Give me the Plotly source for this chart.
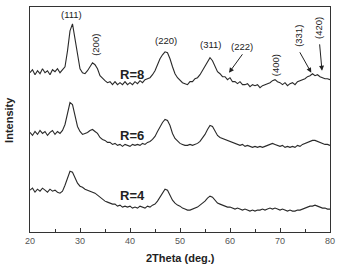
import plotly.graph_objects as go

two_theta = [20.0, 20.5, 21.0, 21.5, 22.0, 22.5, 23.0, 23.5, 24.0, 24.5,
             25.0, 25.5, 26.0, 26.5, 27.0, 27.5, 28.0, 28.5, 29.0, 29.5,
             30.0, 30.5, 31.0, 31.5, 32.0, 32.5, 33.0, 33.5, 34.0, 34.5,
             35.0, 35.5, 36.0, 36.5, 37.0, 37.5, 38.0, 38.5, 39.0, 39.5,
             40.0, 40.5, 41.0, 41.5, 42.0, 42.5, 43.0, 43.5, 44.0, 44.5,
             45.0, 45.5, 46.0, 46.5, 47.0, 47.5, 48.0, 48.5, 49.0, 49.5,
             50.0, 50.5, 51.0, 51.5, 52.0, 52.5, 53.0, 53.5, 54.0, 54.5,
             55.0, 55.5, 56.0, 56.5, 57.0, 57.5, 58.0, 58.5, 59.0, 59.5,
             60.0, 60.5, 61.0, 61.5, 62.0, 62.5, 63.0, 63.5, 64.0, 64.5,
             65.0, 65.5, 66.0, 66.5, 67.0, 67.5, 68.0, 68.5, 69.0, 69.5,
             70.0, 70.5, 71.0, 71.5, 72.0, 72.5, 73.0, 73.5, 74.0, 74.5,
             75.0, 75.5, 76.0, 76.5, 77.0, 77.5, 78.0, 78.5, 79.0, 79.5,
             80.0]

r8 = [160, 163, 158, 162, 159, 164, 160, 162, 158, 163,
      161, 164, 160, 163, 166, 182, 202, 209, 194, 176,
      164, 160, 159, 162, 166, 170, 168, 164, 157, 154,
      152, 150, 151, 148, 151, 148, 150, 148, 151, 148,
      150, 148, 151, 149, 152, 150, 153, 154, 155, 158,
      162, 168, 174, 178, 181, 180, 174, 166, 159, 155,
      152, 150, 149, 148, 151, 151, 154, 155, 158, 162,
      166, 170, 175, 172, 166, 161, 159, 156, 156, 153,
      155, 151, 151, 149, 151, 148, 148, 149, 146, 148,
      147, 148, 145, 147, 148, 149, 150, 152, 153, 151,
      150, 148, 150, 147, 149, 150, 148, 151, 152, 153,
      154, 156, 157, 159, 157, 158, 156, 155, 154, 154,
      153]

r6 = [100, 97, 101, 98, 102, 99, 101, 97, 100, 102,
      98, 101, 99, 102, 108, 120, 130, 128, 118, 106,
      101, 98, 99, 100, 102, 103, 101, 99, 95, 93,
      92, 90, 90, 88, 89, 87, 88, 86, 88, 87,
      86, 88, 87, 88, 87, 89, 88, 90, 91, 93,
      96, 101, 106, 110, 113, 112, 107, 99, 94, 91,
      89, 88, 87, 87, 88, 87, 88, 89, 91, 94,
      98, 103, 107, 106, 101, 97, 95, 94, 93, 92,
      91, 90, 89, 88, 87, 88, 86, 87, 86, 85,
      86, 85, 86, 85, 86, 87, 88, 89, 88, 87,
      86, 87, 85, 86, 85, 86, 85, 87, 86, 88,
      89, 90, 91, 92, 92, 91, 90, 89, 88, 88,
      87]

r4 = [42, 44, 40, 43, 41, 44, 42, 40, 43, 41,
      42, 40, 39, 41, 47, 55, 61, 60, 54, 49,
      46, 45, 43, 42, 41, 40, 39, 37, 35, 33,
      31, 30, 29, 28, 28, 26, 27, 25, 26, 25,
      26, 24, 25, 24, 26, 25, 24, 26, 25, 27,
      28, 31, 35, 40, 43, 42, 37, 32, 29, 27,
      26, 24, 23, 22, 22, 23, 24, 25, 27, 29,
      31, 34, 36, 35, 32, 29, 28, 27, 26, 25,
      25, 24, 23, 24, 23, 22, 23, 22, 21, 22,
      21, 22, 22, 23, 22, 23, 24, 23, 24, 23,
      22, 23, 22, 21, 22, 21, 21, 22, 22, 23,
      24, 25, 26, 26, 27, 26, 25, 24, 24, 23,
      23]

series_names = ["R=8", "R=6", "R=4"]
series_values = [r8, r6, r4]
series_label_pos = [(40.4, 158), (40.4, 97), (40.4, 37)]

peak_labels = ["(111)", "(200)", "(220)", "(311)", "(222)", "(400)", "(331)", "(420)"]
peak_label_x = [28.3, 33.2, 47.2, 56.1, 62.4, 69.1, 73.8, 77.8]
peak_label_y = [218, 188, 192, 188, 186, 167, 197, 205]
peak_label_angle = [0, -90, 0, 0, 0, -90, -90, -90]

arrow_tails = [(62.7, 180), (73.8, 182), (77.9, 190)]
arrow_heads = [(59.8, 160), (76.25, 160), (78.4, 162)]

x_ticks = [20, 30, 40, 50, 60, 70, 80]

fig = go.Figure()
for name, vals in zip(series_names, series_values):
    fig.add_trace(go.Scatter(x=two_theta, y=vals, mode="lines", name=name,
                             line=dict(color="#2a2a2a", width=1.1),
                             showlegend=False))

annotations = []
for name, (lx, ly) in zip(series_names, series_label_pos):
    annotations.append(dict(x=lx, y=ly, xref="x", yref="y", text="<b>" + name + "</b>",
                            showarrow=False, font=dict(family="Liberation Sans", size=13, color="#222")))
for t, lx, ly, ang in zip(peak_labels, peak_label_x, peak_label_y, peak_label_angle):
    annotations.append(dict(x=lx, y=ly, xref="x", yref="y", text=t, textangle=ang,
                            showarrow=False, font=dict(family="Liberation Sans", size=9.5, color="#222")))
for (tx, ty), (hx, hy) in zip(arrow_tails, arrow_heads):
    annotations.append(dict(x=hx, y=hy, xref="x", yref="y", ax=tx, ay=ty, axref="x", ayref="y",
                            text="", showarrow=True, arrowhead=2, arrowsize=1, arrowwidth=1,
                            arrowcolor="#222"))
annotations.append(dict(x=0.5, y=-0.115, xref="paper", yref="paper", text="<b>2Theta (deg.)</b>",
                        xanchor="center", yanchor="middle",
                        showarrow=False, font=dict(family="Liberation Sans", size=11, color="#222")))
annotations.append(dict(x=-0.072, y=0.5, xref="paper", yref="paper", text="<b>Intensity</b>",
                        xanchor="center", yanchor="middle",
                        textangle=-90, showarrow=False,
                        font=dict(family="Liberation Sans", size=11, color="#222")))

fig.update_layout(
    width=341, height=265,
    margin=dict(l=30, r=7, t=6, b=33),
    paper_bgcolor="white", plot_bgcolor="white",
    annotations=annotations,
)
fig.update_xaxes(range=[20, 80], tickvals=x_ticks, ticks="inside", ticklen=4,
                 tickcolor="#333", showline=True, linecolor="#333", linewidth=1.2,
                 mirror=True, showgrid=False, zeroline=False,
                 tickfont=dict(family="Liberation Sans", size=9, color="#555"),
                 minor=dict(dtick=5, tick0=20, ticks="inside", ticklen=3, tickcolor="#333", showgrid=False))
fig.update_yaxes(range=[0, 226], showticklabels=False, ticks="", showline=True,
                 linecolor="#333", linewidth=1.2, mirror=True, showgrid=False, zeroline=False)

fig.write_html("out.html")
